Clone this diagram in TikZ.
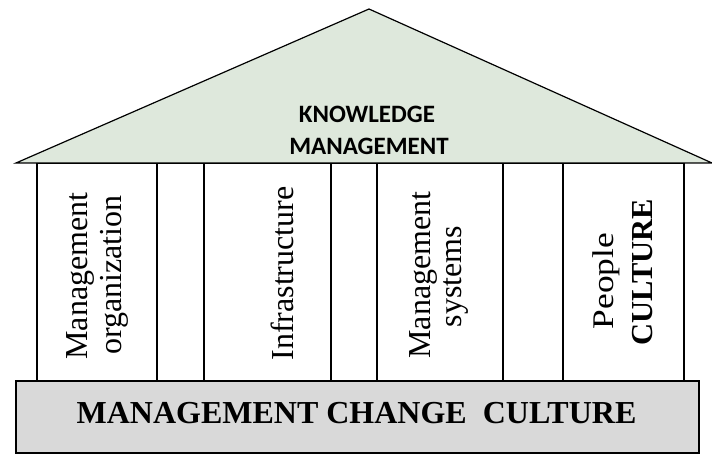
\documentclass[tikz,border=0pt]{standalone}
\usepackage{fontspec}
\setmainfont{Liberation Serif}
\newfontfamily\kmfont{Carlito}
\definecolor{roofgreen}{HTML}{DEE8DC}
\definecolor{basegray}{HTML}{D9D9D9}
\begin{document}
\begin{tikzpicture}[x=1pt,y=-1pt,line width=1.2pt,
  pillar/.style={draw,rectangle,inner sep=0pt,minimum height=218pt},
  ptext/.style={rotate=90,anchor=base,inner sep=0pt,font=\fontsize{32}{36}\selectfont},
  rooftext/.style={anchor=base,inner sep=0pt,font=\kmfont\bfseries\fontsize{25}{30}\selectfont},
  basebox/.style={draw,rectangle,fill=basegray,inner sep=0pt,minimum width=683pt,minimum height=72pt},
  basetext/.style={anchor=base,inner sep=0pt,font=\bfseries\fontsize{32}{36}\selectfont}]
\useasboundingbox (0,0) rectangle (712,454);
% pillars and gaps
\node[pillar,minimum width=120pt] (p1) at (97,272) {};
\node[pillar,minimum width=47pt] (g1) at (180.5,272) {};
\node[pillar,minimum width=127pt] (p2) at (267.5,272) {};
\node[pillar,minimum width=46pt] (g2) at (354,272) {};
\node[pillar,minimum width=126pt] (p3) at (440,272) {};
\node[pillar,minimum width=60pt] (g3) at (533,272) {};
\node[pillar,minimum width=121pt] (p4) at (623.5,272) {};
% roof
\draw[fill=roofgreen] (16,163) -- (369,9) -- (712,163) -- cycle;
\node[rooftext] (k1) at (367,123) {KNOWLEDGE};
\node[rooftext] (k2) at (369,155) {MANAGEMENT};
% pillar texts
\node[ptext] (t1a) at (87,276) {Management};
\node[ptext] (t1b) at (121.5,275) {organization};
\node[ptext] (t2) at (293,273.5) {Infrastructure};
\node[ptext] (t3a) at (430,275) {Management};
\node[ptext] (t3b) at (461.5,276.5) {systems};
\node[ptext,font=\fontsize{30}{36}\selectfont] (t4a) at (613,281) {\scalebox{1.18}[1]{People}};
\node[ptext,font=\bfseries\fontsize{30.5}{36}\selectfont] (t4b) at (652,272) {CULTURE};
% base
\node[basebox] (base) at (357.5,417) {};
\node[basetext] (bt) at (356.5,423) {MANAGEMENT CHANGE\ \ CULTURE};
\end{tikzpicture}
\end{document}
